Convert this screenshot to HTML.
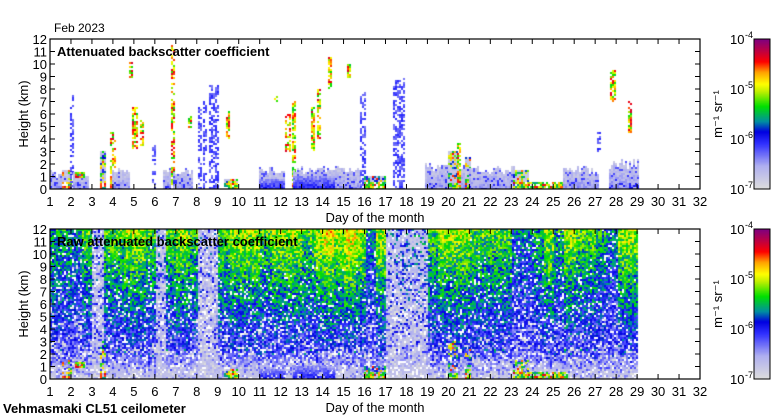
<!DOCTYPE html>
<html><head><meta charset="utf-8">
<style>
body{margin:0;background:#fff;}
#wrap{position:relative;width:780px;height:420px;overflow:hidden;font-family:"Liberation Sans",sans-serif;}
canvas{position:absolute;}
svg{position:absolute;left:0;top:0;}
</style></head>
<body>
<div id="wrap">
<canvas id="cTop" width="650" height="150" style="left:50px;top:39px"></canvas>
<canvas id="cBot" width="650" height="150" style="left:50px;top:229px"></canvas>
<canvas id="cb1" width="16" height="150" style="left:754px;top:39px"></canvas>
<canvas id="cb2" width="16" height="150" style="left:754px;top:229px"></canvas>
<svg id="ax" width="780" height="420"></svg>
</div>
<script>
// ---- data ----
const days = [1,2,3,4,5,6,7,8,9,10,11,12,13,14,15,16,17,18,19,20,21,22,23,24,25,26,27,28,29,30,31,32];
const heightTicks = [0,1,2,3,4,5,6,7,8,9,10,11,12];
const cbarLabels = ["-4","-5","-6","-7"];
// top panel cloud segments (day start, day end, bottom km, top km, kind)
const segStart = [1.0,1.6,2.0,2.1,2.2,3.4,3.9,4.0,4.8,4.95,5.3,5.9,6.4,6.8,6.9,7.6,8.1,8.3,8.6,9.4,9.3,11.0,11.0,11.7,12.25,12.55,12.6,12.6,13.45,13.75,14.3,14.7,15.2,15.3,15.8,16.0,17.4,18.9,20.0,20.45,20.8,21.0,23.1,23.8,25.5,27.1,27.75,27.7,28.6];
const segEnd   = [1.5,2.0,2.1,2.8,2.6,3.6,4.1,4.8,4.9,5.15,5.4,6.0,6.7,6.9,7.8,7.7,8.2,8.4,9.0,9.5,9.9,12.2,12.2,11.8,12.4,12.65,15.8,14.5,13.55,13.85,14.4,15.0,15.3,15.8,16.0,17.0,17.9,21.0,20.4,20.55,21.0,23.1,23.8,25.7,27.1,27.2,27.9,29.0,28.75];
const segBottom= [0,0,0,0,1.0,0,0,0,9,3.3,3.3,0,0,0,0,5,0,0,0,4,0,0,0,7.1,3,0,0,0,3,4,8,0,9,0,0,0,0,0,0,0,0,0,0,0,0,3,7,0,4.5];
const segTop   = [1.5,1.5,7.5,1.5,1.3,3.0,4.5,1.8,10.3,6.5,5.5,3.5,1.8,11.5,1.8,5.8,6.5,7.0,8.3,6.2,0.8,1.9,0.8,7.4,6.0,7.0,2.0,1.0,6.5,8.0,10.5,2.0,10.0,1.6,7.7,1.0,8.8,2.2,3.0,3.8,2.5,2.0,1.5,0.5,2.0,4.5,9.5,2.5,7.0];
const segKind  = ["g","c","b","g","c","c","c","g","c","c","c","b","g","c","g","c","b","b","b","c","c","g","d","c","c","c","g","d","c","c","c","g","c","g","b","c","b","g","c","c","c","g","c","c","g","b","c","g","c"];
// raw panel: upper-air signal strength per half day from day 1 to day 29
const rawSignal = [1.5,1.5,1,2,0.5,2,2,2.5,2.5,2,0.5,2,2.5,2,0.3,0.3,2,2.5,2.5,2.5,2,2.5,2.5,2.5,2,2.5,3,2.5,3,2.5,1,2.5,0.5,0.8,0.8,0.8,2,2.5,2.5,2.5,2,2,2,2,1,1,1.5,2.5,1.5,2.5,2,2,1.5,1,2.5,2.5];

// ---- helpers ----
const X0=50, W=650, H=150, DAY0=1, DAY1=32, HMAX=12;
function xOfDay(d){return (d-DAY0)/(DAY1-DAY0)*W;}
function yOfH(h){return H - h/HMAX*H;}
const stops=[[0,[220,220,220]],[0.15,[176,176,240]],[0.3,[48,48,255]],[0.38,[0,0,224]],[0.45,[0,144,160]],[0.55,[0,224,0]],[0.65,[192,240,0]],[0.7,[255,255,0]],[0.78,[255,160,0]],[0.85,[255,0,0]],[0.92,[192,0,64]],[1,[128,0,128]]];
function cmap(v){v=Math.max(0,Math.min(1,v));for(let i=1;i<stops.length;i++){if(v<=stops[i][0]){const a=stops[i-1],b=stops[i];const t=(v-a[0])/(b[0]-a[0]);return 'rgb('+a[1].map((c,k)=>Math.round(c+(b[1][k]-c)*t)).join(',')+')';}}return 'rgb(128,0,128)';}
function tex(x,y){let n=(x*374761393+y*668265263)|0;n=(n^(n>>>13))*1274126177|0;return ((n^(n>>>16))>>>0)/4294967296;}

// ---- segments ----
function drawSegments(ctx,onlyLow){
  for(let i=0;i<segStart.length;i++){
    const k=segKind[i];
    if(onlyLow){ if(k==='g'||k==='b') continue; if(k==='c' && segTop[i]>3.6) continue; }
    const xa=Math.floor(xOfDay(segStart[i])), xb=Math.ceil(xOfDay(segEnd[i]));
    const ya=Math.floor(yOfH(segTop[i])), yb=Math.ceil(yOfH(segBottom[i]));
    const lowC = (k==='c' && segTop[i]<=3.6);
    for(let x=xa;x<xb;x+=2){
      const jag = tex(x,i*13)*0.35*(yb-ya);
      for(let y=ya;y<yb;y+=2){
        const r=tex(x+i*7,y); let v;
        const frac=(y-ya)/Math.max(1,yb-ya);
        if(k==='g'){ if(y<ya+jag) continue; v=0.04+0.12*r+0.1*frac*frac; if(r>0.85)v+=0.1;}
        else if(k==='b'){if(r<0.45)continue; v=0.12+0.2*r;}
        else if(k==='d'){if(onlyLow&&r<0.2)continue; v=0.12+0.12*r+0.16*frac;}
        else if(lowC){
          const hh=(H-y)/H*HMAX;
          if(hh>segBottom[i]+0.6){ if(r<0.55){ if(onlyLow) continue; v=0.05+0.12*r;} else v=0.3+0.55*tex(y,x);}
          else { if(r<0.2) continue; v=0.35+0.55*r;}
        }
        else {if(r<0.3)continue; v=0.35+0.55*r;}
        ctx.fillStyle=cmap(v);ctx.fillRect(x,y,2,2);
      }
    }
  }
}
const ct=document.getElementById('cTop').getContext('2d');
drawSegments(ct,false);

// ---- raw heatmap ----
const cbt=document.getElementById('cBot').getContext('2d');
const xEnd=xOfDay(29);
for(let x=0;x<xEnd;x+=2){
  const d=DAY0+x/W*(DAY1-DAY0);
  const g=rawSignal[Math.min(rawSignal.length-1,Math.floor((d-1)*2))];
  for(let y=0;y<H;y+=2){
    const h=(H-y)/H*HMAX, r=tex(x,y), r2=tex(y+11,x+5);
    let v=0.21+h*(0.006+0.012*g)+(r-0.5)*0.26;
    if(h<2.5){const t=h/2.5; v=v*t+0.06*(1-t)+(r2<0.2?0.12:0);}
    if(g<1 && r2<0.55) v=0.04+0.12*r;
    if(r2>0.8 && v<0.42){cbt.fillStyle=(r<0.5?'#fff':'#dcdcdc');cbt.fillRect(x,y,2,2);continue;}
    cbt.fillStyle=cmap(v);cbt.fillRect(x,y,2,2);
  }
}
drawSegments(cbt,true);

// ---- colorbars ----
['cb1','cb2'].forEach(id=>{const c=document.getElementById(id).getContext('2d');for(let y=0;y<150;y++){c.fillStyle=cmap(1-y/149);c.fillRect(0,y,16,1);}});

// ---- axes ----
const svg=document.getElementById('ax');const NS='http://www.w3.org/2000/svg';
function el(tag,attrs,text){const e=document.createElementNS(NS,tag);for(const k in attrs)e.setAttribute(k,attrs[k]);if(text!==undefined)e.textContent=text;svg.appendChild(e);return e;}
[39,229].forEach((top,pi)=>{
  const fr=el('rect',{x:X0,y:top,width:W,height:H,fill:'none',stroke:'#000','stroke-width':1.2});
  
  
  days.forEach(d=>{const x=X0+xOfDay(d);
    el('line',{x1:x,x2:x,y1:top,y2:top+5,stroke:'#000'});
    el('line',{x1:x,x2:x,y1:top+H,y2:top+H-5,stroke:'#000'});
    const t=el('text',{x:x,y:top+H+17,'font-size':13,'text-anchor':'middle',fill:'#000'},String(d));
    
    
  });
  heightTicks.forEach(h=>{const y=top+yOfH(h);
    el('line',{x1:X0,x2:X0+5,y1:y,y2:y,stroke:'#000'});
    el('line',{x1:X0+W,x2:X0+W-5,y1:y,y2:y,stroke:'#000'});
    const t=el('text',{x:X0-3,y:y+5,'font-size':13,'text-anchor':'end',fill:'#000'},String(h));
    
    
  });
  const yt=el('text',{x:0,y:0,'font-size':13,'text-anchor':'middle',transform:'translate(28,'+(top+75)+') rotate(-90)'},'Height (km)');
  
  
  const xt=el('text',{x:375,y:top+H+33,'font-size':13,'text-anchor':'middle'},'Day of the month');
  
  
  const ti=el('text',{x:57,y:top+17,'font-size':13,'font-weight':'bold'},pi?'Raw attenuated backscatter coefficient':'Attenuated backscatter coefficient');
  
  
  el('rect',{x:754,y:top,width:16,height:H,fill:'none',stroke:'#000'});
  cbarLabels.forEach((p,i)=>{const y=top+i*H/3+5;
    const t=el('text',{x:730,y:y,'font-size':13},'10');
    
    
    el('text',{x:745,y:y-6,'font-size':9},p);
  });
  const u=el('text',{x:0,y:0,'font-size':13,'text-anchor':'middle',transform:'translate(722,'+(top+75)+') rotate(-90)'},'m\u207B\u00B9 sr\u207B\u00B9');
  
  
});
const fd=el('text',{x:54,y:32,'font-size':12},'Feb 2023');


const ft=el('text',{x:3,y:413,'font-size':13,'font-weight':'bold'},'Vehmasmaki CL51 ceilometer');


</script>
</body></html>
